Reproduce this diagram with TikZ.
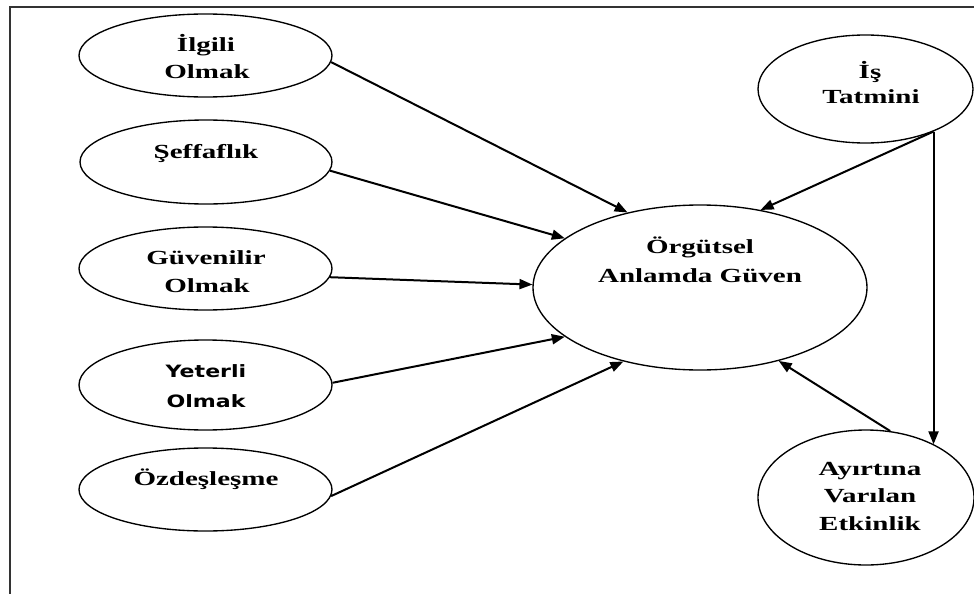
\documentclass[tikz,border=0pt]{standalone}
\usepackage{fontspec}
\usetikzlibrary{arrows.meta,shapes.geometric}
\newfontfamily\dserif[FakeStretch=1.45]{Liberation Serif}
\newfontfamily\dsans[FakeStretch=1.3]{DejaVu Sans}
\begin{document}
\begin{tikzpicture}[x=1pt,y=-1pt,
  oval/.style={draw=black, line width=1.35pt, ellipse, inner sep=0pt},
  lbl/.style={anchor=base, inner sep=0pt, text=black, font=\dserif\bfseries\fontsize{20}{24}\selectfont},
  lbls/.style={anchor=base, inner sep=0pt, text=black, font=\dsans\bfseries\fontsize{17}{21}\selectfont},
  arr/.style={draw=black, line width=2pt, -{Triangle[length=13pt,width=10pt]}},
  frame/.style={draw=black!80, line width=1.6pt}]
\useasboundingbox (0,0) rectangle (974,594);
\fill[white] (0,0) rectangle (974,594);
\draw[frame] (974,7) -- (10,7) -- (10,594);

% ellipses
\node[oval, minimum width=253pt, minimum height=83pt] (ilg) at (205.5,55.5) {};
\node[oval, minimum width=252pt, minimum height=84pt] (sef) at (206,162) {};
\node[oval, minimum width=253pt, minimum height=83pt] (guv) at (205.5,268.5) {};
\node[oval, minimum width=253pt, minimum height=90pt] (yet) at (205.5,385) {};
\node[oval, minimum width=253pt, minimum height=83pt] (ozd) at (205.5,489.5) {};
\node[oval, minimum width=334pt, minimum height=165pt] (org) at (700,287.5) {};
\node[oval, minimum width=215pt, minimum height=108pt] (ist) at (865.5,89) {};
\node[oval, minimum width=216pt, minimum height=135pt] (ayr) at (866,497.5) {};

% texts
\node[lbl] (ilgA) at (206,52) {İlgili};
\node[lbl] (ilgB) at (207,78) {Olmak};
\node[lbl] (sefA) at (206,158) {Şeffaflık};
\node[lbl] (guvA) at (206,264) {Güvenilir};
\node[lbl] (guvB) at (207,292) {Olmak};
\node[lbls] (yetA) at (206,377) {Yeterli};
\node[lbls] (yetB) at (206,407) {Olmak};
\node[lbl] (ozdA) at (206,485) {Özdeşleşme};
\node[lbl] (orgA) at (700,253) {Örgütsel};
\node[lbl] (orgB) at (700,282) {Anlamda Güven};
\node[lbl] (istA) at (870,78) {İş};
\node[lbl] (istB) at (871,103) {Tatmini};
\node[lbl] (ayrA) at (870,475) {Ayırtına};
\node[lbl] (ayrB) at (870,502) {Varılan};
\node[lbl] (ayrC) at (870,530) {Etkinlik};

% connectors
\draw[arr] (ilg.-3.5) -- (org.134.8);
\draw[arr] (sef.-4.7) -- (org.160.3);
\draw[arr] (guv.-4) -- (org.179);
\draw[arr] (yet.1.4) -- (org.200.9);
\draw[arr] (ozd.-3.5) -- (org.224);
\draw[arr] (ist.-32) -- (org.52.6);
\draw[arr] (ist.-32) -- (ist.-32 |- ayr.38.3);
\draw[arr] (ayr.70) -- (org.-43.7);
\end{tikzpicture}
\end{document}
